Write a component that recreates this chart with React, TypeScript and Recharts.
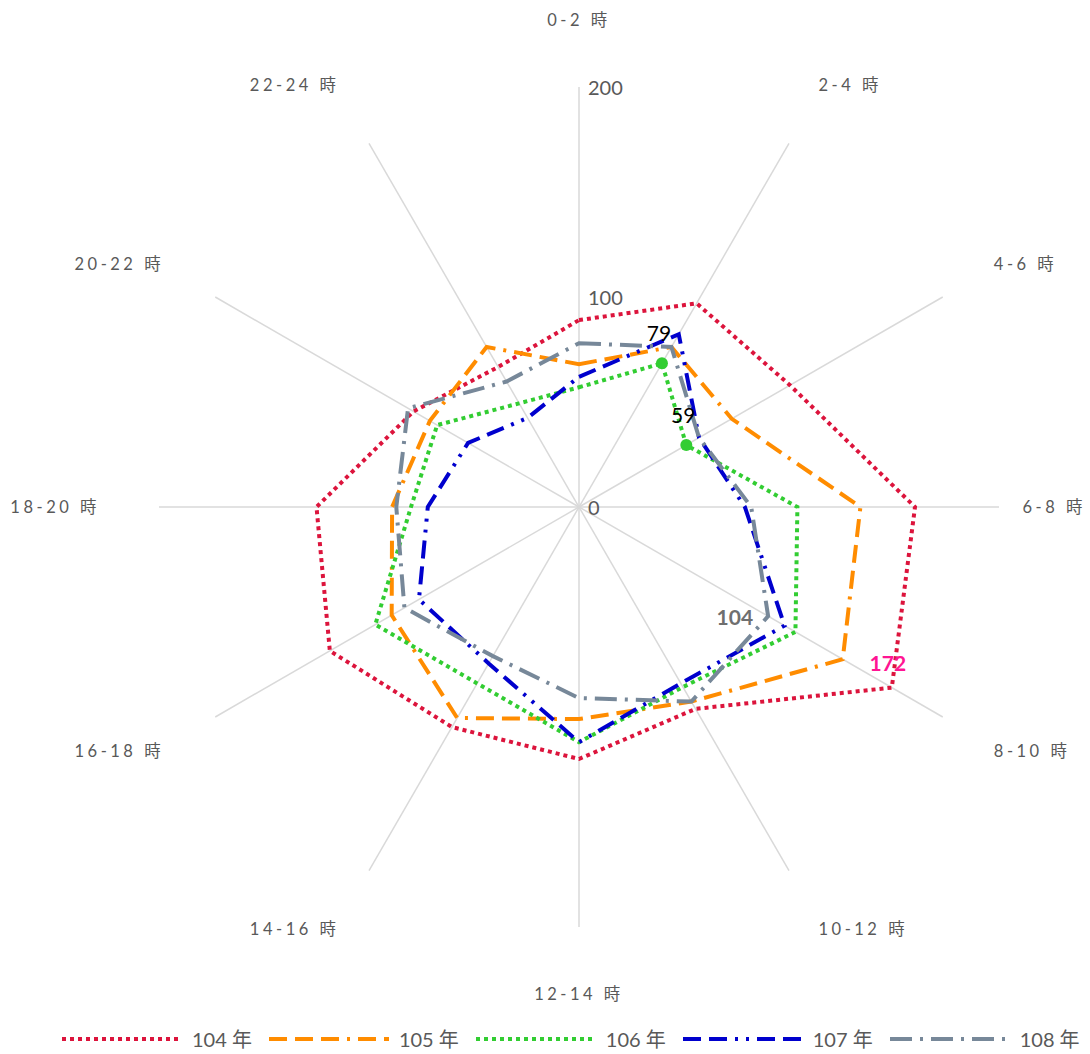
import { RadarChart, Radar, PolarGrid, PolarAngleAxis, PolarRadiusAxis, Legend } from 'recharts';

// categories (clockwise from top)
const hours = ['0-2 時', '2-4 時', '4-6 時', '6-8 時', '8-10 時', '10-12 時', '12-14 時', '14-16 時', '16-18 時', '18-20 時', '20-22 時', '22-24 時'];

// series values
const y104 = [89, 112, 116, 160, 172, 111, 120, 121, 137, 125, 91, 77];
const y105 = [68, 88, 84, 134, 145, 107, 101, 116, 103, 89, 82, 88];
const y106 = [57, 79, 59, 104, 119, 99, 112, 97, 112, 80, 78, 57];
const y107 = [62, 95, 66, 79, 113, 97, 112, 86, 88, 72, 61, 49];
const y108 = [78, 88, 66, 82, 104, 107, 91, 82, 96, 87, 94, 69];

const radiusDomain = [0, 200];

const series = [
  { key: 'y104', name: '104 年', color: '#DC143C', dash: '4 4' },
  { key: 'y105', name: '105 年', color: '#FF8C00', dash: '18 8 18 8 18 8 3 8' },
  { key: 'y106', name: '106 年', color: '#32CD32', dash: '4 4' },
  { key: 'y107', name: '107 年', color: '#0000CD', dash: '18 8 18 8 3 8 3 8' },
  { key: 'y108', name: '108 年', color: '#778899', dash: '22 8 3 8' },
];

const data = hours.map((hour, i) => ({
  hour,
  y104: y104[i],
  y105: y105[i],
  y106: y106[i],
  y107: y107[i],
  y108: y108[i],
}));

const W = 1090;
const H = 1054;
const CX = 579;
const CY = 507;
const R = 420;
const LABEL_R = 479;
const FONT = "Lato, 'Noto Sans CJK TC', sans-serif";
const TEXT = '#595959';

function AngleTick(props: any) {
  const { x, y, payload } = props;
  const cx = props.cx ?? CX;
  const cy = props.cy ?? CY;
  const dx = x - cx;
  const dy = y - cy;
  const len = Math.hypot(dx, dy) || 1;
  const ux = dx / len;
  const uy = dy / len;
  let px = cx + ux * LABEL_R;
  const py = cy + uy * LABEL_R + uy * 8;
  const text = String(payload.value);
  const estW = text.length * 12.6;
  let anchor: 'start' | 'middle' | 'end' = Math.abs(ux) < 0.1 ? 'middle' : ux > 0 ? 'start' : 'end';
  // keep labels inside the chart, like the original does at 6-8
  if (anchor === 'start' && px + estW > W - 4) {
    px = W - 4;
    anchor = 'end';
  }
  if (anchor === 'end' && px - estW < 4) {
    px = 4;
    anchor = 'start';
  }
  return (
    <text x={px} y={py} textAnchor={anchor} dominantBaseline="central" fill={TEXT} fontSize={16.5} letterSpacing={3.5} fontFamily={FONT}>
      {text}
    </text>
  );
}

function RadiusTick(props: any) {
  const { x, y, payload } = props;
  return (
    <text x={x + 9} y={y} dominantBaseline="central" fill={TEXT} fontSize={20} fontFamily={FONT}>
      {payload.value}
    </text>
  );
}

const empty = (p: any) => <g key={`d-${p.index}`} />;

// 106: markers + labels at 2-4 and 4-6
const dot106 = (p: any) => {
  if (p.index !== 1 && p.index !== 2) return empty(p);
  return (
    <g key={`d106-${p.index}`}>
      <circle cx={p.cx} cy={p.cy} r={6} fill="#32CD32" />
      <text x={p.cx - 3} y={p.cy - 31} textAnchor="middle" dominantBaseline="central" fontSize={21} fill="#000" fontFamily={FONT}>
        {y106[p.index]}
      </text>
    </g>
  );
};

const dot104 = (p: any) => {
  if (p.index !== 4) return empty(p);
  return (
    <text key="d104" x={p.cx - 4} y={p.cy - 25} textAnchor="middle" dominantBaseline="central" fontSize={21} fontWeight="bold" fill="#FF1493" fontFamily={FONT}>
      {y104[p.index]}
    </text>
  );
};

const dot108 = (p: any) => {
  if (p.index !== 4) return empty(p);
  return (
    <text key="d108" x={p.cx - 15} y={p.cy} textAnchor="end" dominantBaseline="central" fontSize={21} fontWeight="bold" fill="#6F6F6F" fontFamily={FONT}>
      {y108[p.index]}
    </text>
  );
};

const dots: Record<string, any> = { y104: dot104, y106: dot106, y108: dot108 };

function LegendContent(props: any) {
  const items = props.payload || [];
  return (
    <div style={{ display: 'flex', alignItems: 'center', paddingLeft: 62, fontFamily: FONT, whiteSpace: 'nowrap', width: W, boxSizing: 'border-box' }}>
      {items.map((item: any) => {
        const s = series.find((d) => d.key === item.dataKey || d.name === item.value);
        return (
          <div key={item.value} style={{ display: 'flex', alignItems: 'center', marginRight: 17, flexShrink: 0 }}>
            <svg width={120} height={10} style={{ flexShrink: 0 }}>
              <line x1={0} y1={5} x2={120} y2={5} stroke={item.color} strokeWidth={4} strokeDasharray={s?.dash} />
            </svg>
            <span style={{ marginLeft: 10, fontSize: 20, color: TEXT, whiteSpace: 'nowrap' }}>{item.value}</span>
          </div>
        );
      })}
    </div>
  );
}

export default function App() {
  return (
    <div style={{ position: 'absolute', left: 0, top: 0, width: W, height: H, background: '#fff' }}>
      <RadarChart width={W} height={H} data={data} cx={CX} cy={CY} outerRadius={R} margin={{ top: 0, right: 0, bottom: 0, left: 0 }}>
        <PolarGrid polarRadius={[]} stroke="#D9D9D9" strokeWidth={1.5} />
        <PolarAngleAxis dataKey="hour" tick={AngleTick} tickLine={false} axisLine={false} />
        <PolarRadiusAxis angle={90} domain={radiusDomain} tickCount={3} axisLine={false} tickLine={false} tick={RadiusTick} />
        {series.map((s) => (
          <Radar
            key={s.key}
            name={s.name}
            dataKey={s.key}
            stroke={s.color}
            strokeWidth={4}
            strokeDasharray={s.dash}
            fill="none"
            fillOpacity={0}
            dot={dots[s.key] ?? false}
            legendType="line"
            isAnimationActive={false}
          />
        ))}
        <Legend content={LegendContent} wrapperStyle={{ top: 1024, left: 0, bottom: 'auto', width: W }} />
      </RadarChart>
    </div>
  );
}
